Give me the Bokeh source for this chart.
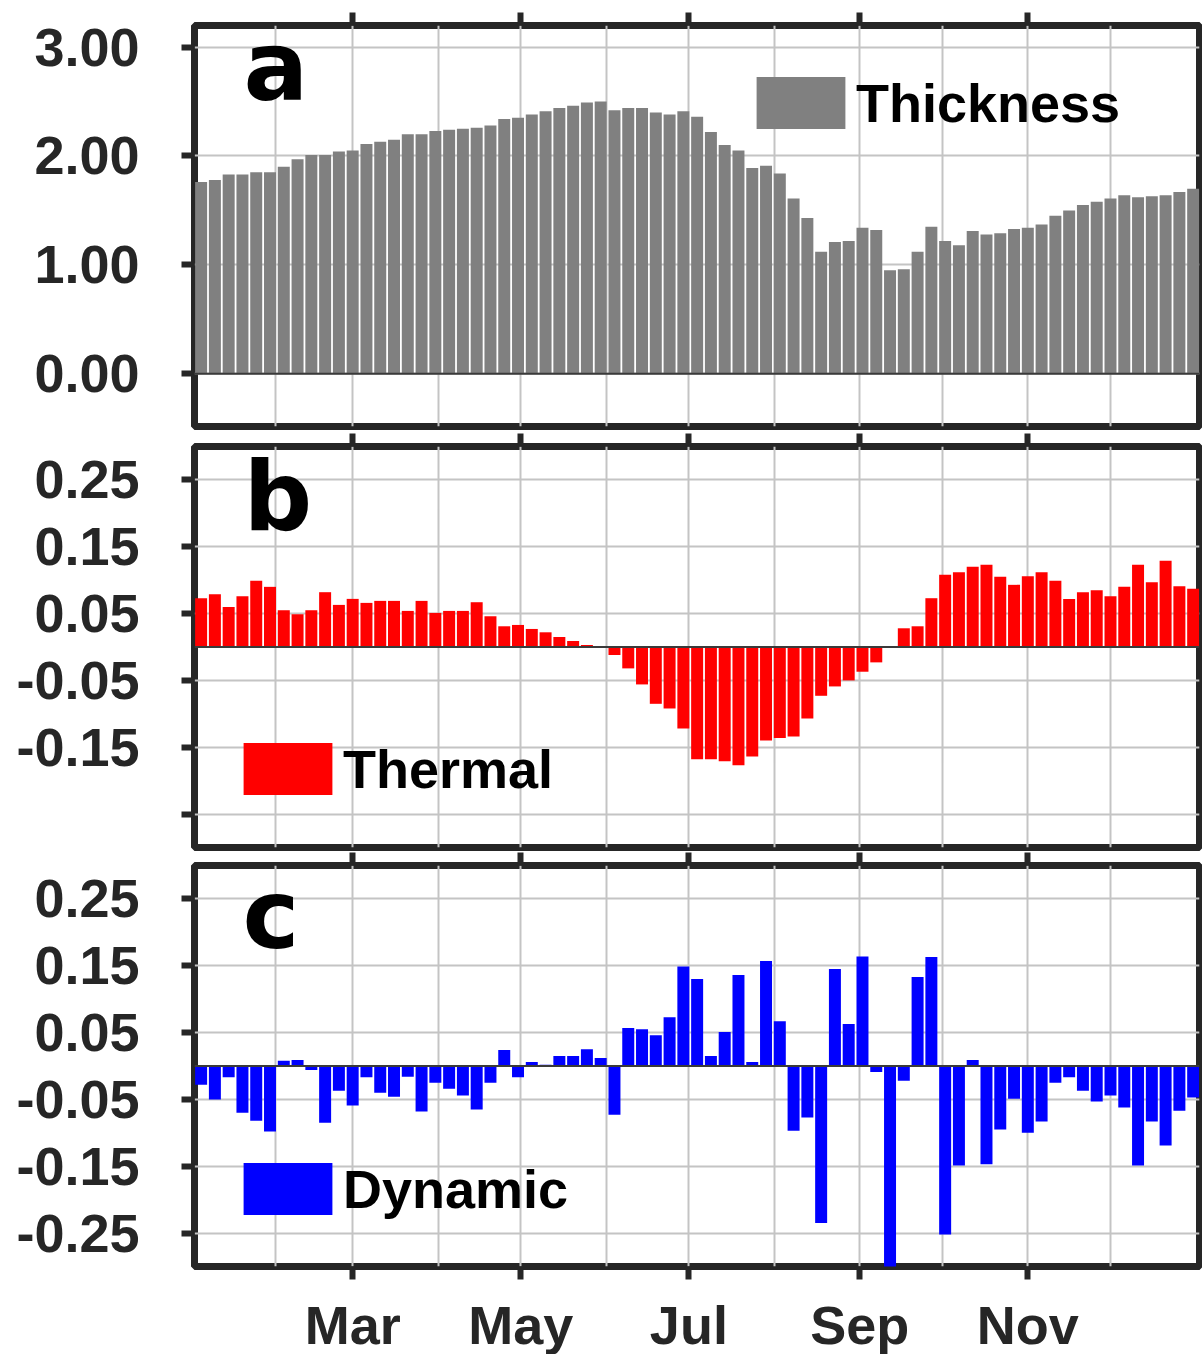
from bokeh.plotting import figure
from bokeh.layouts import column
from bokeh.models import (ColumnDataSource, FixedTicker, LinearAxis, Span, Legend,
                          LegendItem, Label, Range1d, NumeralTickFormatter)
from bokeh.embed import file_html
from bokeh.resources import INLINE

# ---------------- data ----------------
pentads = list(range(1, 74))

thickness = [1.76, 1.78, 1.83, 1.83, 1.85, 1.85, 1.90, 1.97, 2.01, 2.01,
             2.04, 2.05, 2.11, 2.13, 2.15, 2.20, 2.20, 2.23, 2.24, 2.25,
             2.26, 2.28, 2.34, 2.35, 2.38, 2.41, 2.44, 2.46, 2.49, 2.50,
             2.42, 2.44, 2.44, 2.40, 2.38, 2.41, 2.36, 2.22, 2.10, 2.05,
             1.89, 1.91, 1.84, 1.61, 1.43, 1.12, 1.21, 1.22, 1.34, 1.32,
             0.95, 0.96, 1.12, 1.35, 1.22, 1.18, 1.31, 1.28, 1.29, 1.33,
             1.34, 1.37, 1.45, 1.50, 1.55, 1.58, 1.61, 1.64, 1.62, 1.63,
             1.64, 1.67, 1.70]

thermal = [0.073, 0.079, 0.060, 0.076, 0.099, 0.090, 0.055, 0.049, 0.055, 0.082,
           0.063, 0.072, 0.066, 0.069, 0.069, 0.054, 0.069, 0.051, 0.054, 0.054,
           0.067, 0.046, 0.031, 0.033, 0.027, 0.022, 0.015, 0.009, 0.003, 0.001,
           -0.012, -0.032, -0.056, -0.085, -0.092, -0.122, -0.168, -0.168, -0.171, -0.177,
           -0.164, -0.140, -0.136, -0.134, -0.107, -0.073, -0.059, -0.050, -0.037, -0.023,
           0.0, 0.028, 0.031, 0.073, 0.108, 0.112, 0.120, 0.123, 0.105, 0.093,
           0.106, 0.112, 0.099, 0.072, 0.082, 0.085, 0.076, 0.090, 0.123, 0.097,
           0.129, 0.091, 0.087]

dynamic = [-0.028, -0.050, -0.017, -0.070, -0.082, -0.098, 0.008, 0.009, -0.006, -0.085,
           -0.037, -0.059, -0.017, -0.040, -0.046, -0.016, -0.068, -0.025, -0.034, -0.044,
           -0.065, -0.025, 0.024, -0.017, 0.006, 0.002, 0.015, 0.015, 0.025, 0.012,
           -0.073, 0.057, 0.055, 0.046, 0.073, 0.149, 0.130, 0.015, 0.051, 0.136,
           0.006, 0.157, 0.067, -0.097, -0.077, -0.235, 0.145, 0.063, 0.164, -0.009,
           -0.310, -0.022, 0.133, 0.163, -0.252, -0.149, 0.009, -0.147, -0.095, -0.049,
           -0.100, -0.083, -0.025, -0.017, -0.037, -0.053, -0.044, -0.062, -0.149, -0.083,
           -0.119, -0.067, -0.047]

month_start_days = [0, 31, 59, 90, 120, 151, 181, 212, 243, 273, 304, 334]
month_names = ["Jan", "Feb", "Mar", "Apr", "May", "Jun",
               "Jul", "Aug", "Sep", "Oct", "Nov", "Dec"]
labeled_months = ["Mar", "May", "Jul", "Sep", "Nov"]

thick_ticks = [0.0, 1.0, 2.0, 3.0]
flux_ticks = [-0.25, -0.15, -0.05, 0.05, 0.15, 0.25]

# ---------------- styling ----------------
DARK = "#262626"
GRID = "#c4c4c4"
TICK_FONT = "Liberation Sans"
LETTER_FONT = "DejaVu Sans"
TICK_SIZE = "54px"

label_ticks = [month_start_days[month_names.index(m)] for m in labeled_months]
label_over = {d: m for d, m in zip(label_ticks, labeled_months)}
grid_ticks = month_start_days[1:]

source = ColumnDataSource(dict(
    x=[5 * p - 1 for p in pentads],
    thickness=thickness,
    thermal=thermal,
    dynamic=dynamic,
))


def style_x_axis(ax, show_labels):
    ax.ticker = FixedTicker(ticks=label_ticks)
    ax.axis_line_color = None
    ax.major_tick_out = 13
    ax.major_tick_in = 0
    ax.major_tick_line_width = 6
    ax.major_tick_line_color = DARK
    ax.minor_tick_line_color = None
    if show_labels:
        ax.major_label_overrides = label_over
        ax.major_label_text_font = TICK_FONT
        ax.major_label_text_font_size = TICK_SIZE
        ax.major_label_text_font_style = "bold"
        ax.major_label_text_color = DARK
        ax.major_label_standoff = 15
    else:
        ax.major_label_text_font_size = "0px"
        ax.major_label_standoff = 0
        ax.major_label_overrides = {d: "" for d in label_ticks}


def make_panel(field, color, yr, yticks, fmt, top_b, bot_b, letter, letter_xy,
               legend_name, legend_loc, overrides=None, bottom_labels=False):
    p = figure(frame_width=1005, frame_height=401,
               x_range=Range1d(1.6, 366.3), y_range=Range1d(*yr),
               x_axis_location="above",
               min_border_left=194, min_border_right=3,
               min_border_top=top_b, min_border_bottom=bot_b,
               output_backend="svg", toolbar_location=None,
               background_fill_color="white", border_fill_color="white")
    p.outline_line_color = DARK
    p.outline_line_width = 7
    p.outline_line_alpha = 1.0

    style_x_axis(p.xaxis[0], False)
    if bottom_labels:
        bx = LinearAxis()
        style_x_axis(bx, True)
        p.add_layout(bx, "below")

    ya = p.yaxis[0]
    ya.ticker = FixedTicker(ticks=yticks)
    ya.formatter = NumeralTickFormatter(format=fmt)
    if overrides:
        ya.major_label_overrides = overrides
    ya.axis_line_color = None
    ya.major_tick_out = 13
    ya.major_tick_in = 0
    ya.major_tick_line_width = 6
    ya.major_tick_line_color = DARK
    ya.minor_tick_line_color = None
    ya.major_label_text_font = TICK_FONT
    ya.major_label_text_font_size = TICK_SIZE
    ya.major_label_text_font_style = "bold"
    ya.major_label_text_color = DARK
    ya.major_label_standoff = 42

    p.xgrid.ticker = FixedTicker(ticks=grid_ticks)
    p.xgrid.grid_line_color = GRID
    p.xgrid.grid_line_width = 2
    p.ygrid.grid_line_color = GRID
    p.ygrid.grid_line_width = 2

    r = p.vbar(x="x", top=field, bottom=0, width=4.35, source=source,
               fill_color=color, line_color=None)

    p.add_layout(Span(location=0, dimension="width", line_color="#3a3a3a",
                      line_width=2))

    legend = Legend(items=[LegendItem(label=legend_name, renderers=[r])],
                    location=legend_loc)
    legend.glyph_width = 111
    legend.glyph_height = 65
    legend.padding = 0
    legend.margin = 0
    legend.spacing = 0
    legend.label_standoff = 0
    legend.border_line_alpha = 0
    legend.background_fill_alpha = 0
    legend.label_text_font = TICK_FONT
    legend.label_text_font_size = "54px"
    legend.label_text_font_style = "bold"
    legend.label_text_color = "black"
    p.add_layout(legend)

    p.add_layout(Label(x=letter_xy[0], y=letter_xy[1], text=letter,
                       text_font=LETTER_FONT, text_font_size="96px",
                       text_font_style="bold", text_color="black",
                       text_baseline="alphabetic", text_align="left"))
    return p


pa = make_panel("thickness", "#808080", (-0.484, 3.198), thick_ticks, "0.00",
                25, 7, "a", (19.4, 2.82), "Thickness", (551, 291))
pb = make_panel("thermal", "#ff0000", (-0.3, 0.3), flux_ticks, "0.00",
                13, 5, "b", (19.4, 0.225), "Thermal", (38, 46),
                overrides={-0.25: ""})
pc = make_panel("dynamic", "#0000ff", (-0.3, 0.3), flux_ticks, "0.00",
                13, 88, "c", (19.0, 0.226), "Dynamic", (38, 45),
                bottom_labels=True)

layout = column(pa, pb, pc, spacing=0)
open("out.html", "w").write(file_html(layout, INLINE))
